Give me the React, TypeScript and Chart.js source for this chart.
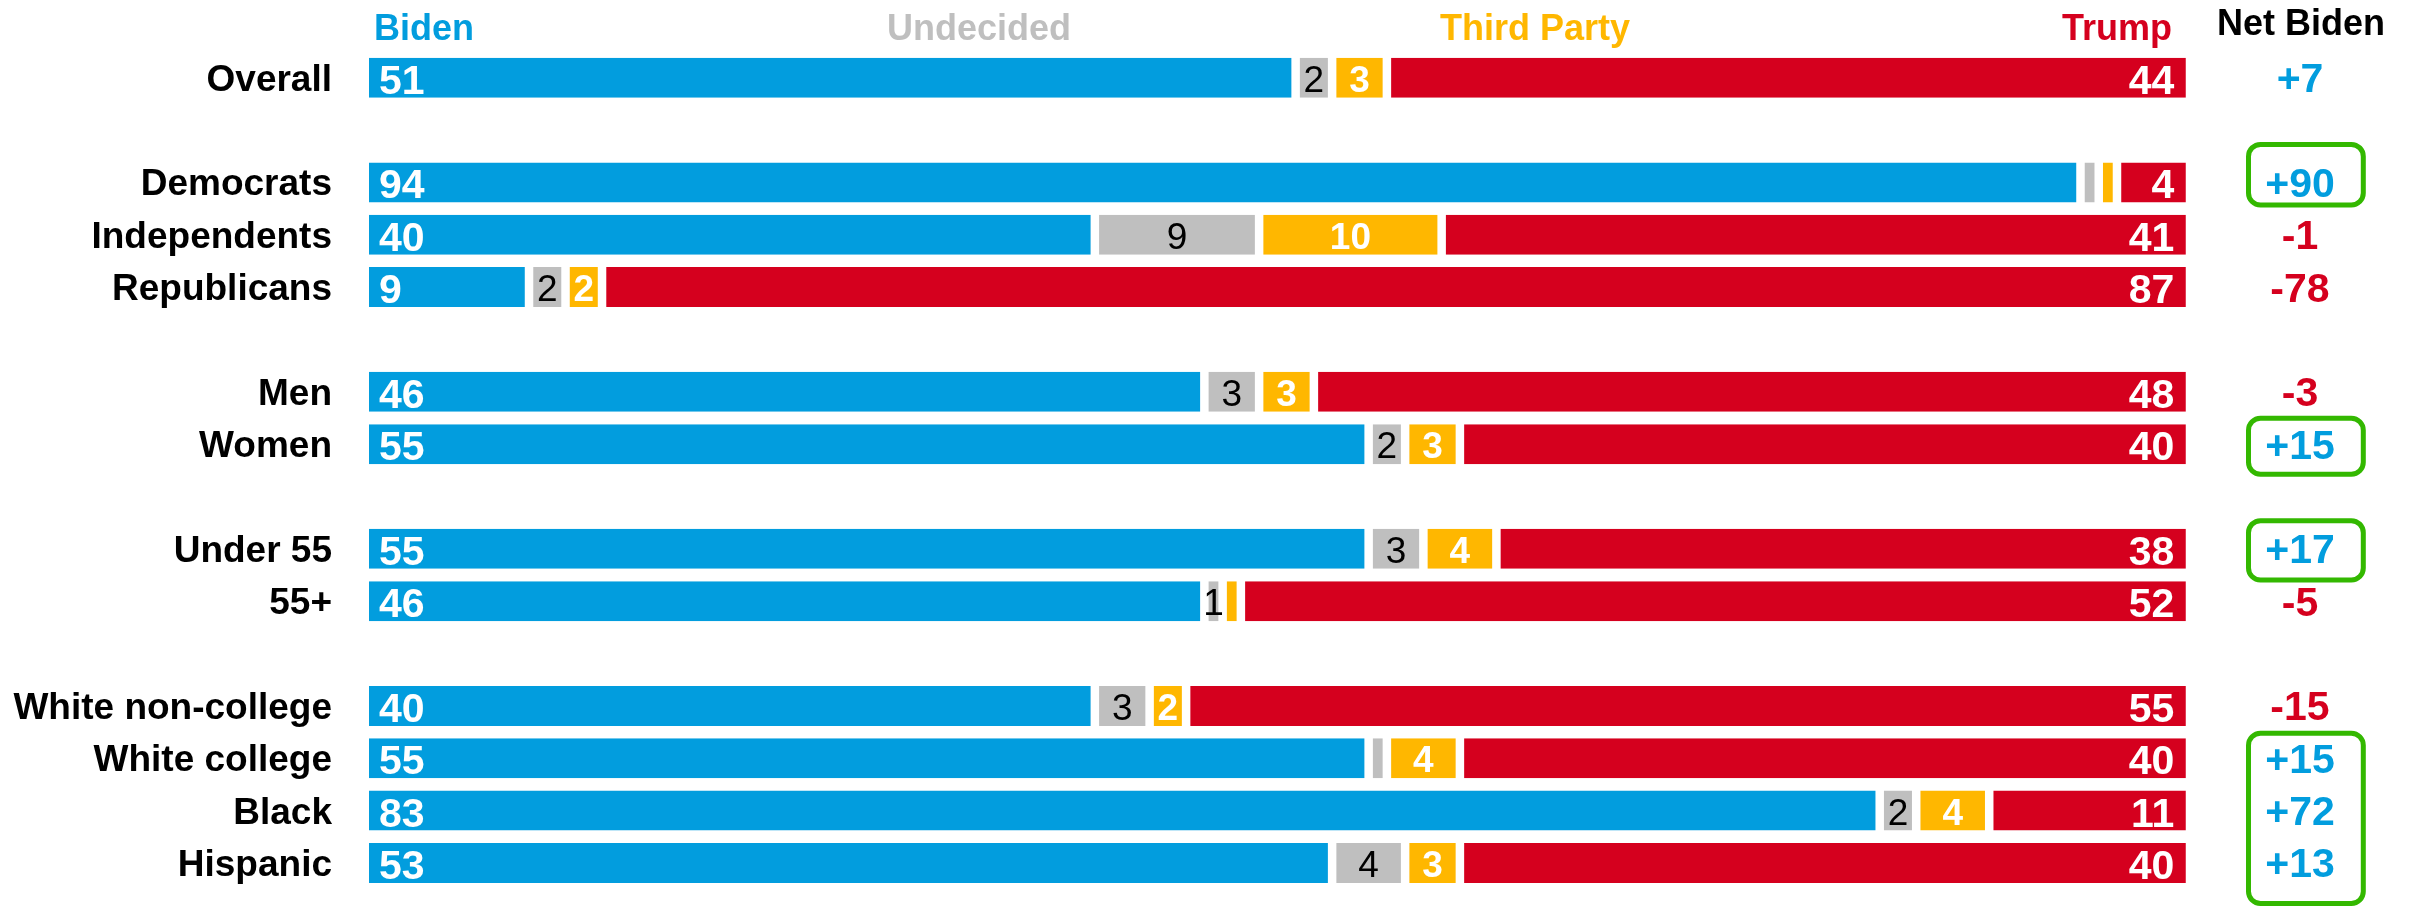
import React, { useEffect, useRef } from "react";
import { Chart, registerables } from "chart.js";

Chart.register(...registerables);

// ---------- data ----------
const categories = [
  "Overall",
  "Democrats",
  "Independents",
  "Republicans",
  "Men",
  "Women",
  "Under 55",
  "55+",
  "White non-college",
  "White college",
  "Black",
  "Hispanic",
];
const groupSizes = [1, 3, 2, 2, 4];

const biden = [51, 94, 40, 9, 46, 55, 55, 46, 40, 55, 83, 53];
const undecided = [2, 1, 9, 2, 3, 2, 3, 1, 3, 1, 2, 4];
const thirdParty = [3, 1, 10, 2, 3, 3, 4, 1, 2, 4, 4, 3];
const trump = [44, 4, 41, 87, 48, 40, 38, 52, 55, 40, 11, 40];
const netBiden = [7, 90, -1, -78, -3, 15, 17, -5, -15, 15, 72, 13];

const seriesNames = ["Biden", "Undecided", "Third Party", "Trump"];
// segments whose value label is not shown: [category, series]
const hiddenLabels: [string, string][] = [
  ["Democrats", "Undecided"],
  ["Democrats", "Third Party"],
  ["55+", "Third Party"],
  ["White college", "Undecided"],
];
// highlighted net-Biden groups: first category, last category
const highlightBoxes = [
  { from: "Democrats", to: "Democrats", padTop: 38, padBottom: 22.6 },
  { from: "Women", to: "Women", padTop: 25.8, padBottom: 30.2 },
  { from: "Under 55", to: "Under 55", padTop: 28.2, padBottom: 31.2 },
  { from: "White college", to: "Hispanic", padTop: 25, padBottom: 40.5 },
];

// ---------- style ----------
const COLORS = ["#029DDE", "#BFBFBF", "#FFB700", "#D5001E"];
const GREEN = "#33B800";
const FONT = '"Liberation Sans", Arial, Helvetica, sans-serif';
const GAP = 4.25;

// rows with spacers between groups
const rows: (number | null)[] = [];
{
  let k = 0;
  groupSizes.forEach((n, g) => {
    if (g > 0) rows.push(null);
    for (let j = 0; j < n; j++) rows.push(k++);
  });
}
const rowLabels = rows.map((r) => (r === null ? "" : categories[r]));
const seriesValues = [biden, undecided, thirdParty, trump];

const overlayPlugin = {
  id: "overlay",
  afterDatasetsDraw(chart: any) {
    const ctx: CanvasRenderingContext2D = chart.ctx;
    const yScale = chart.scales.y;
    const rowY = (catIdx: number) => yScale.getPixelForValue(rows.indexOf(catIdx));
    ctx.save();

    // column headers
    ctx.textBaseline = "alphabetic";
    ctx.font = `bold 36px ${FONT}`;
    ctx.fillStyle = COLORS[0];
    ctx.textAlign = "left";
    ctx.fillText(seriesNames[0], 374, 40);
    ctx.fillStyle = COLORS[1];
    ctx.textAlign = "center";
    ctx.fillText(seriesNames[1], 979, 40);
    ctx.fillStyle = COLORS[2];
    ctx.fillText(seriesNames[2], 1535, 40);
    ctx.fillStyle = COLORS[3];
    ctx.textAlign = "right";
    ctx.fillText(seriesNames[3], 2172, 40);
    ctx.fillStyle = "#000";
    ctx.textAlign = "center";
    ctx.fillText("Net Biden", 2301, 35);

    // category labels
    ctx.font = `bold 37px ${FONT}`;
    ctx.fillStyle = "#000";
    ctx.textAlign = "right";
    categories.forEach((c, i) => {
      ctx.fillText(c, 332, rowY(i) + 13);
    });

    // segment labels
    chart.data.datasets.forEach((ds: any, di: number) => {
      const meta = chart.getDatasetMeta(di);
      meta.data.forEach((el: any, idx: number) => {
        const r = rows[idx];
        if (r === null) return;
        const v = ds.data[idx];
        if (v == null) return;
        const cat = categories[r];
        if (hiddenLabels.some(([c, s]) => c === cat && s === seriesNames[di])) return;
        const left = Math.min(el.x, el.base);
        const right = Math.max(el.x, el.base);
        const y = el.y;
        const txt = String(Math.round(v));
        if (di === 0) {
          ctx.font = `bold 41px ${FONT}`;
          ctx.fillStyle = "#fff";
          ctx.textAlign = "left";
          ctx.fillText(txt, left + GAP + 10, y + 16);
        } else if (di === 3) {
          ctx.font = `bold 41px ${FONT}`;
          ctx.fillStyle = "#fff";
          ctx.textAlign = "right";
          ctx.fillText(txt, right - GAP - 11.5, y + 16);
        } else if (di === 1) {
          ctx.font = `37px ${FONT}`;
          ctx.fillStyle = "#000";
          ctx.textAlign = "center";
          ctx.fillText(txt, (left + right) / 2, y + 14);
        } else {
          ctx.font = `bold 37px ${FONT}`;
          ctx.fillStyle = "#fff";
          ctx.textAlign = "center";
          ctx.fillText(txt, (left + right) / 2, y + 14);
        }
      });
    });

    // net Biden column
    ctx.font = `bold 41px ${FONT}`;
    ctx.textAlign = "center";
    netBiden.forEach((n, i) => {
      ctx.fillStyle = n > 0 ? COLORS[0] : COLORS[3];
      ctx.fillText((n > 0 ? "+" : "") + n, 2300, rowY(i) + 14.5);
    });

    // highlight boxes
    ctx.strokeStyle = GREEN;
    ctx.lineWidth = 5;
    highlightBoxes.forEach((b) => {
      const top = rowY(categories.indexOf(b.from)) - b.padTop;
      const bottom = rowY(categories.indexOf(b.to)) + b.padBottom;
      const x0 = 2248.5;
      const x1 = 2363.3;
      ctx.beginPath();
      (ctx as any).roundRect(x0, top, x1 - x0, bottom - top, 12);
      ctx.stroke();
    });

    ctx.restore();
  },
};

export default function App() {
  const ref = useRef<HTMLCanvasElement | null>(null);

  useEffect(() => {
    document.body.style.margin = "0";
    const canvas = ref.current;
    if (!canvas) return;
    const chart = new Chart(canvas, {
      type: "bar",
      data: {
        labels: rowLabels,
        datasets: seriesValues.map((vals, si) => ({
          label: seriesNames[si],
          data: rows.map((r) => (r === null ? null : vals[r])),
          backgroundColor: COLORS[si],
          borderColor: "#ffffff",
          borderWidth: { left: GAP, right: GAP, top: 0, bottom: 0 },
          borderSkipped: false,
          barThickness: 40,
          inflateAmount: 0,
        })),
      },
      options: {
        indexAxis: "y",
        responsive: false,
        maintainAspectRatio: false,
        devicePixelRatio: 1,
        animation: false,
        layout: { padding: { left: 364.75, right: 220, top: 51.5, bottom: 18.9 } },
        plugins: {
          legend: { display: false },
          tooltip: { enabled: false },
          title: { display: false },
        },
        scales: {
          x: { type: "linear", min: 0, max: 100, stacked: true, display: false },
          y: { type: "category", stacked: true, display: false },
        },
      },
      plugins: [overlayPlugin],
    } as any);
    return () => chart.destroy();
  }, []);

  return (
    <div style={{ position: "fixed", left: 0, top: 0, width: 2410, height: 908, background: "#fff" }}>
      <canvas ref={ref} width={2410} height={908} style={{ display: "block" }} />
    </div>
  );
}
